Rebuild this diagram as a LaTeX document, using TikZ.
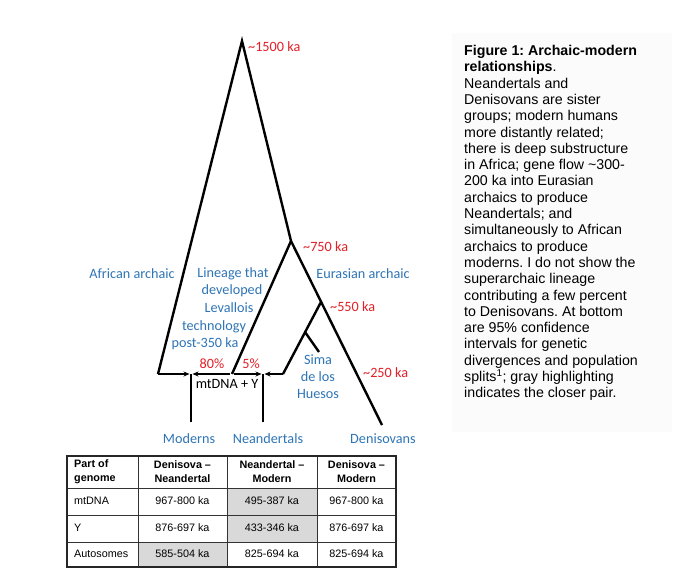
\documentclass[tikz,border=0pt]{standalone}
\usepackage{fontspec}
\setmainfont{Carlito}
\newfontfamily\arialf{Liberation Sans}
\usetikzlibrary{arrows.meta}
\definecolor{lblue}{RGB}{46,117,182}
\definecolor{lred}{RGB}{226,32,40}
\definecolor{cellgray}{RGB}{217,217,217}
\frenchspacing
\begin{document}
\begin{tikzpicture}[x=1pt,y=-1pt,
  tree/.style={line width=2.4pt, line join=miter},
  gf/.style={line width=1.5pt, -{Stealth[length=6pt,width=5pt]}},
  vbar/.style={line width=2pt},
  bluelab/.style={text=lblue, inner sep=0pt, font=\fontsize{14.2}{16}\selectfont},
  redlab/.style={text=lred, inner sep=0pt, font=\fontsize{14.2}{16}\selectfont},
  blacklab/.style={text=black, inner sep=0pt, font=\fontsize{14.2}{16}\selectfont},
  captext/.style={inner sep=0pt, anchor=base west, font=\arialf\fontsize{14.2}{16.3}\selectfont},
  tab/.style={inner sep=0pt, align=center, font=\arialf\fontsize{10.8}{14}\selectfont},
  tabh/.style={tab, font=\arialf\bfseries\fontsize{10.8}{14}\selectfont}
]
\useasboundingbox (0,0) rectangle (680,586);
\fill[white] (0,0) rectangle (680,586);
% very light caption background
\fill[black!1.5] (452,33) rectangle (672,432);

% ---------- tree coordinates ----------
\coordinate (A) at (242,41);
\coordinate (L) at (158,374);
\coordinate (B) at (291,241);
\coordinate (C) at (232,374);
\coordinate (D) at (321,302);
\coordinate (E) at (283,374);
\coordinate (F) at (382,425);
\coordinate (S1) at (305,332);
\coordinate (S2) at (319,352);
\coordinate (M) at (191,374);
\coordinate (N) at (263,374);
\coordinate (Mb) at (191,422);
\coordinate (Nb) at (263,422);

% ---------- tree lines ----------
\draw[tree] (L) -- (A) -- (B) -- (F);
\draw[tree] (B) -- (C);
\draw[tree] (D) -- (E);
\draw[tree] (S1) -- (S2);

% ---------- gene flow arrows ----------
\draw[gf] (L) -- ([xshift=-1.5pt]M);
\draw[gf] ([xshift=-2pt]C) -- ([xshift=1.5pt]M);
\draw[gf] ([xshift=2pt]C) -- ([xshift=-1.5pt]N);
\draw[gf] (E) -- ([xshift=1.5pt]N);
\draw[vbar] (M) -- (Mb);
\draw[vbar] (N) -- (Nb);

% ---------- labels ----------
\node[redlab, anchor=west] (r1500) at (248,47) {\textasciitilde1500 ka};
\node[redlab, anchor=west] (r750) at (303,247) {\textasciitilde750 ka};
\node[redlab, anchor=west] (r550) at (330,307) {\textasciitilde550 ka};
\node[redlab, anchor=west] (r250) at (363,373) {\textasciitilde250 ka};
\node[redlab] (p80) at (212,364) {80\%};
\node[redlab] (p5) at (251,364) {5\%};
\node[blacklab] (mty) at (227,384) {mtDNA + Y};

\node[bluelab] (afr) at (132,274) {African archaic};
\node[bluelab] (eur) at (363,274) {Eurasian archaic};
\node[bluelab] (lin1) at (233,274) {Lineage that};
\node[bluelab] (lin2) at (232,291) {developed};
\node[bluelab] (lin3) at (229,308) {Levallois};
\node[bluelab] (lin4) at (214,327) {technology};
\node[bluelab] (lin5) at (205,344) {post-350 ka};
\node[bluelab] (sh1) at (318,360) {Sima};
\node[bluelab] (sh2) at (318,377) {de los};
\node[bluelab] (sh3) at (318,394) {Huesos};
\node[bluelab] (mod) at (189,439) {Moderns};
\node[bluelab] (nea) at (268,439) {Neandertals};
\node[bluelab] (den) at (383,439) {Denisovans};

% ---------- caption ----------
\foreach \t [count=\i] in {
  {\bfseries Figure 1: Archaic-modern},
  {{\bfseries relationships}.},
  {Neandertals and},
  {Denisovans are sister},
  {groups; modern humans},
  {more distantly related;},
  {there is deep substructure},
  {in Africa; gene flow \textasciitilde300-},
  {200 ka into Eurasian},
  {archaics to produce},
  {Neandertals; and},
  {simultaneously to African},
  {archaics to produce},
  {moderns. I do not show the},
  {superarchaic lineage},
  {contributing a few percent},
  {to Denisovans. At bottom},
  {are 95\% confidence},
  {intervals for genetic},
  {divergences and population},
  {splits\textsuperscript{1}; gray highlighting},
  {indicates the closer pair.}}
  \node[captext] (cap\i) at (464,{55.5+16.3*(\i-1)}) {\t};

% ---------- table ----------
\fill[cellgray] (138,542) rectangle (227,567);
\fill[cellgray] (227,488) rectangle (317,542);
\draw[black!80, line width=0.8pt]
  (67,488) -- (396,488)
  (67,515) -- (396,515)
  (67,542) -- (396,542)
  (138,456) -- (138,567)
  (227,456) -- (227,567)
  (317,456) -- (317,567);
\draw[black!85, line width=1.1pt] (67,456) rectangle (396,567);

\node[tabh, anchor=west, align=left] (h1) at (74,472) {Part of\\genome};
\node[tabh] (h2) at (182.5,472) {Denisova –\\Neandertal};
\node[tabh] (h3) at (272,472) {Neandertal –\\Modern};
\node[tabh] (h4) at (356.5,472) {Denisova –\\Modern};

\node[tab, anchor=west] (r1) at (74,501) {mtDNA};
\node[tab, anchor=west] (r2) at (74,528) {Y};
\node[tab, anchor=west] (r3) at (74,554) {Autosomes};

\node[tab] (c12) at (182.5,501) {967-800 ka};
\node[tab] (c13) at (272,501) {495-387 ka};
\node[tab] (c14) at (356.5,501) {967-800 ka};
\node[tab] (c22) at (182.5,528) {876-697 ka};
\node[tab] (c23) at (272,528) {433-346 ka};
\node[tab] (c24) at (356.5,528) {876-697 ka};
\node[tab] (c32) at (182.5,554) {585-504 ka};
\node[tab] (c33) at (272,554) {825-694 ka};
\node[tab] (c34) at (356.5,554) {825-694 ka};
\end{tikzpicture}
\end{document}
